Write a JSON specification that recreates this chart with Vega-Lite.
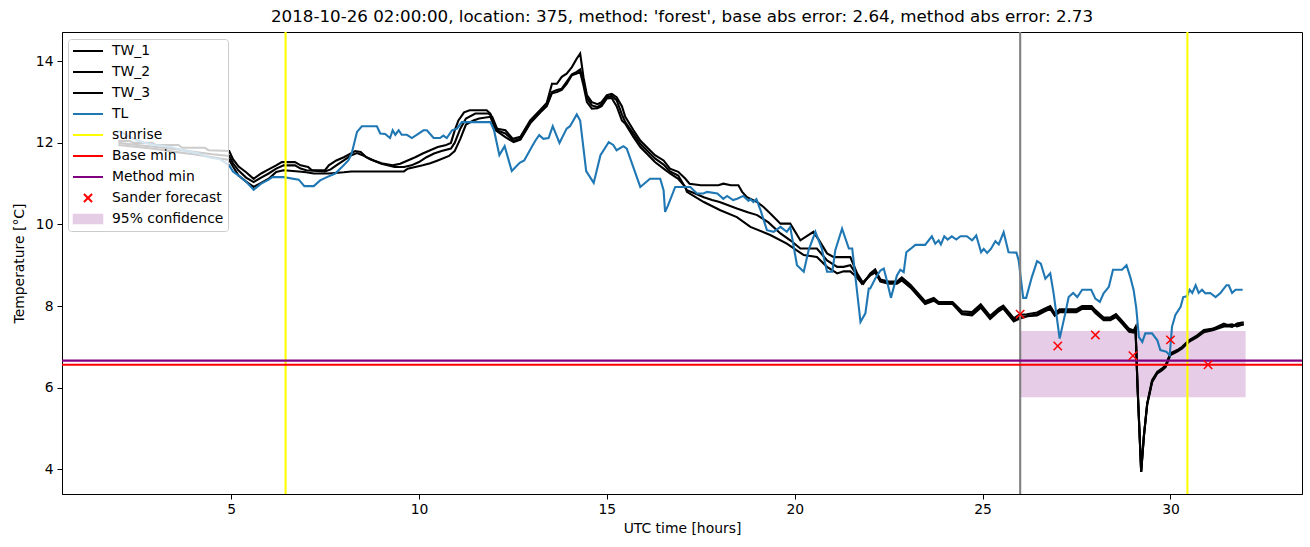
{
"$schema": "https://vega.github.io/schema/vega-lite/v6.json",
"width": 1240, "height": 462,
"autosize": "none",
"padding": {"left": 62, "top": 32, "right": 8, "bottom": 53},
"title": {"text": "2018-10-26 02:00:00, location: 375, method: 'forest', base abs error: 2.64, method abs error: 2.73", "fontSize": 16.7, "fontWeight": "normal", "font": "DejaVu Sans", "color": "black", "offset": 5},
"config": {
  "font": "DejaVu Sans",
  "view": {"stroke": "black", "strokeWidth": 1},
  "axis": {"grid": false, "domainColor": "black", "tickColor": "black", "labelColor": "black", "titleColor": "black", "labelFontSize": 13.9, "titleFontSize": 13.9, "titleFontWeight": "normal", "tickSize": 5, "labelFont": "DejaVu Sans", "titleFont": "DejaVu Sans"},
  "legend": {"symbolSize": 900, "symbolStrokeWidth": 2, "labelFontSize": 13.9, "labelFont": "DejaVu Sans", "labelColor": "black", "strokeColor": "#cccccc", "fillColor": "rgba(255,255,255,0.8)", "cornerRadius": 3, "padding": 4}
},
"layer": [
{
  "data": {"values": [{"x1": 26, "x2": 32, "y1": 5.76, "y2": 7.39}]},
  "mark": {"type": "rect", "color": "#800080", "opacity": 0.2},
  "encoding": {
    "x": {"field": "x1", "type": "quantitative", "scale": {"domain": [0.5, 33.5], "nice": false, "zero": false}, "axis": {"values": [5,10,15,20,25,30], "title": "UTC time [hours]", "labelPadding": 3, "titlePadding": 6}},
    "x2": {"field": "x2"},
    "y": {"field": "y1", "type": "quantitative", "scale": {"domain": [3.39, 14.72], "nice": false, "zero": false}, "axis": {"values": [4,6,8,10,12,14], "title": "Temperature [°C]", "labelPadding": 4, "titlePadding": 9}},
    "y2": {"field": "y2"}
  }
},
{
  "data": {"values": [
{"s":"TW_1","t":2.0,"v":12.05},{"s":"TW_1","t":2.3,"v":12.05},{"s":"TW_1","t":2.4,"v":12.0},{"s":"TW_1","t":2.9,"v":12.0},{"s":"TW_1","t":3.0,"v":11.95},{"s":"TW_1","t":3.6,"v":11.95},{"s":"TW_1","t":3.7,"v":11.88},{"s":"TW_1","t":4.3,"v":11.88},{"s":"TW_1","t":4.4,"v":11.82},{"s":"TW_1","t":4.95,"v":11.8},{"s":"TW_1","t":5.05,"v":11.6},{"s":"TW_1","t":5.2,"v":11.42},{"s":"TW_1","t":5.4,"v":11.28},{"s":"TW_1","t":5.6,"v":11.12},{"s":"TW_1","t":5.8,"v":11.25},{"s":"TW_1","t":6.0,"v":11.35},{"s":"TW_1","t":6.2,"v":11.45},{"s":"TW_1","t":6.35,"v":11.53},{"s":"TW_1","t":6.7,"v":11.53},{"s":"TW_1","t":6.85,"v":11.45},{"s":"TW_1","t":7.05,"v":11.41},{"s":"TW_1","t":7.15,"v":11.33},{"s":"TW_1","t":7.5,"v":11.33},{"s":"TW_1","t":7.6,"v":11.45},{"s":"TW_1","t":7.8,"v":11.57},{"s":"TW_1","t":8.0,"v":11.65},{"s":"TW_1","t":8.2,"v":11.75},{"s":"TW_1","t":8.3,"v":11.8},{"s":"TW_1","t":8.45,"v":11.78},{"s":"TW_1","t":8.6,"v":11.65},{"s":"TW_1","t":8.8,"v":11.57},{"s":"TW_1","t":9.0,"v":11.5},{"s":"TW_1","t":9.3,"v":11.45},{"s":"TW_1","t":9.5,"v":11.49},{"s":"TW_1","t":9.7,"v":11.57},{"s":"TW_1","t":9.9,"v":11.65},{"s":"TW_1","t":10.1,"v":11.74},{"s":"TW_1","t":10.3,"v":11.82},{"s":"TW_1","t":10.5,"v":11.9},{"s":"TW_1","t":10.7,"v":11.94},{"s":"TW_1","t":10.85,"v":12.0},{"s":"TW_1","t":10.95,"v":12.3},{"s":"TW_1","t":11.05,"v":12.55},{"s":"TW_1","t":11.2,"v":12.75},{"s":"TW_1","t":11.35,"v":12.8},{"s":"TW_1","t":11.8,"v":12.8},{"s":"TW_1","t":11.9,"v":12.72},{"s":"TW_1","t":12.05,"v":12.35},{"s":"TW_1","t":12.3,"v":12.31},{"s":"TW_1","t":12.5,"v":12.1},{"s":"TW_1","t":12.7,"v":12.15},{"s":"TW_1","t":12.96,"v":12.55},{"s":"TW_1","t":13.22,"v":12.8},{"s":"TW_1","t":13.4,"v":12.98},{"s":"TW_1","t":13.54,"v":13.45},{"s":"TW_1","t":13.67,"v":13.45},{"s":"TW_1","t":13.8,"v":13.62},{"s":"TW_1","t":13.93,"v":13.7},{"s":"TW_1","t":14.07,"v":13.86},{"s":"TW_1","t":14.2,"v":14.07},{"s":"TW_1","t":14.29,"v":14.19},{"s":"TW_1","t":14.38,"v":13.6},{"s":"TW_1","t":14.47,"v":13.17},{"s":"TW_1","t":14.6,"v":13.0},{"s":"TW_1","t":14.75,"v":12.95},{"s":"TW_1","t":14.86,"v":13.0},{"s":"TW_1","t":15.0,"v":13.17},{"s":"TW_1","t":15.13,"v":13.2},{"s":"TW_1","t":15.26,"v":13.12},{"s":"TW_1","t":15.4,"v":12.9},{"s":"TW_1","t":15.49,"v":12.64},{"s":"TW_1","t":15.71,"v":12.31},{"s":"TW_1","t":15.89,"v":12.06},{"s":"TW_1","t":16.06,"v":11.9},{"s":"TW_1","t":16.28,"v":11.7},{"s":"TW_1","t":16.51,"v":11.57},{"s":"TW_1","t":16.68,"v":11.37},{"s":"TW_1","t":16.9,"v":11.29},{"s":"TW_1","t":17.09,"v":11.12},{"s":"TW_1","t":17.2,"v":11.0},{"s":"TW_1","t":17.5,"v":10.96},{"s":"TW_1","t":17.97,"v":10.96},{"s":"TW_1","t":18.1,"v":11.0},{"s":"TW_1","t":18.3,"v":10.96},{"s":"TW_1","t":18.5,"v":10.96},{"s":"TW_1","t":18.6,"v":10.8},{"s":"TW_1","t":18.73,"v":10.67},{"s":"TW_1","t":19.0,"v":10.55},{"s":"TW_1","t":19.17,"v":10.43},{"s":"TW_1","t":19.35,"v":10.27},{"s":"TW_1","t":19.62,"v":10.02},{"s":"TW_1","t":19.88,"v":10.02},{"s":"TW_1","t":20.15,"v":9.61},{"s":"TW_1","t":20.3,"v":9.7},{"s":"TW_1","t":20.5,"v":9.82},{"s":"TW_1","t":20.65,"v":9.61},{"s":"TW_1","t":20.86,"v":9.29},{"s":"TW_1","t":21.04,"v":9.2},{"s":"TW_1","t":21.48,"v":9.2},{"s":"TW_1","t":21.66,"v":8.8},{"s":"TW_1","t":21.83,"v":8.55},{"s":"TW_1","t":22.01,"v":8.8},{"s":"TW_1","t":22.14,"v":8.9},{"s":"TW_1","t":22.28,"v":8.65},{"s":"TW_1","t":22.5,"v":8.6},{"s":"TW_1","t":22.72,"v":8.6},{"s":"TW_1","t":22.85,"v":8.7},{"s":"TW_1","t":23.08,"v":8.52},{"s":"TW_1","t":23.47,"v":8.12},{"s":"TW_1","t":23.7,"v":8.2},{"s":"TW_1","t":23.83,"v":8.1},{"s":"TW_1","t":24.2,"v":8.1},{"s":"TW_1","t":24.45,"v":7.87},{"s":"TW_1","t":24.72,"v":7.85},{"s":"TW_1","t":24.95,"v":8.04},{"s":"TW_1","t":25.2,"v":7.76},{"s":"TW_1","t":25.43,"v":7.94},{"s":"TW_1","t":25.55,"v":8.01},{"s":"TW_1","t":25.83,"v":7.7},{"s":"TW_1","t":25.96,"v":7.78},{"s":"TW_1","t":26.18,"v":7.8},{"s":"TW_1","t":26.45,"v":7.84},{"s":"TW_1","t":26.62,"v":7.92},{"s":"TW_1","t":26.8,"v":8.0},{"s":"TW_1","t":26.92,"v":7.82},{"s":"TW_1","t":27.05,"v":7.92},{"s":"TW_1","t":27.5,"v":7.92},{"s":"TW_1","t":27.65,"v":8.0},{"s":"TW_1","t":27.9,"v":8.0},{"s":"TW_1","t":28.0,"v":7.9},{"s":"TW_1","t":28.22,"v":7.72},{"s":"TW_1","t":28.4,"v":7.72},{"s":"TW_1","t":28.55,"v":7.8},{"s":"TW_1","t":28.68,"v":7.67},{"s":"TW_1","t":28.9,"v":7.44},{"s":"TW_1","t":29.02,"v":7.4},{"s":"TW_1","t":29.07,"v":7.49},{"s":"TW_1","t":29.12,"v":6.1},{"s":"TW_1","t":29.22,"v":3.93},{"s":"TW_1","t":29.29,"v":4.79},{"s":"TW_1","t":29.38,"v":5.61},{"s":"TW_1","t":29.51,"v":6.18},{"s":"TW_1","t":29.65,"v":6.39},{"s":"TW_1","t":29.78,"v":6.47},{"s":"TW_1","t":29.87,"v":6.55},{"s":"TW_1","t":30.0,"v":6.84},{"s":"TW_1","t":30.18,"v":6.92},{"s":"TW_1","t":30.31,"v":7.0},{"s":"TW_1","t":30.49,"v":7.16},{"s":"TW_1","t":30.71,"v":7.28},{"s":"TW_1","t":30.89,"v":7.41},{"s":"TW_1","t":31.15,"v":7.45},{"s":"TW_1","t":31.42,"v":7.57},{"s":"TW_1","t":31.64,"v":7.49},{"s":"TW_1","t":31.77,"v":7.57},{"s":"TW_1","t":31.95,"v":7.6},
{"s":"TW_2","t":2.0,"v":12.0},{"s":"TW_2","t":2.5,"v":11.95},{"s":"TW_2","t":3.0,"v":11.9},{"s":"TW_2","t":3.5,"v":11.85},{"s":"TW_2","t":4.0,"v":11.78},{"s":"TW_2","t":4.5,"v":11.72},{"s":"TW_2","t":4.95,"v":11.68},{"s":"TW_2","t":5.05,"v":11.5},{"s":"TW_2","t":5.2,"v":11.32},{"s":"TW_2","t":5.4,"v":11.15},{"s":"TW_2","t":5.6,"v":11.04},{"s":"TW_2","t":5.8,"v":11.15},{"s":"TW_2","t":6.0,"v":11.25},{"s":"TW_2","t":6.2,"v":11.37},{"s":"TW_2","t":6.4,"v":11.45},{"s":"TW_2","t":6.7,"v":11.45},{"s":"TW_2","t":6.85,"v":11.37},{"s":"TW_2","t":7.0,"v":11.33},{"s":"TW_2","t":7.5,"v":11.3},{"s":"TW_2","t":7.65,"v":11.35},{"s":"TW_2","t":7.8,"v":11.45},{"s":"TW_2","t":8.0,"v":11.57},{"s":"TW_2","t":8.2,"v":11.7},{"s":"TW_2","t":8.35,"v":11.75},{"s":"TW_2","t":8.5,"v":11.7},{"s":"TW_2","t":8.7,"v":11.6},{"s":"TW_2","t":9.0,"v":11.49},{"s":"TW_2","t":9.35,"v":11.41},{"s":"TW_2","t":9.6,"v":11.41},{"s":"TW_2","t":9.8,"v":11.45},{"s":"TW_2","t":10.0,"v":11.53},{"s":"TW_2","t":10.2,"v":11.65},{"s":"TW_2","t":10.4,"v":11.74},{"s":"TW_2","t":10.6,"v":11.8},{"s":"TW_2","t":10.85,"v":11.86},{"s":"TW_2","t":10.95,"v":12.0},{"s":"TW_2","t":11.1,"v":12.35},{"s":"TW_2","t":11.25,"v":12.6},{"s":"TW_2","t":11.5,"v":12.72},{"s":"TW_2","t":11.85,"v":12.72},{"s":"TW_2","t":11.95,"v":12.64},{"s":"TW_2","t":12.1,"v":12.3},{"s":"TW_2","t":12.3,"v":12.23},{"s":"TW_2","t":12.52,"v":12.05},{"s":"TW_2","t":12.7,"v":12.1},{"s":"TW_2","t":12.96,"v":12.5},{"s":"TW_2","t":13.22,"v":12.76},{"s":"TW_2","t":13.4,"v":12.92},{"s":"TW_2","t":13.54,"v":13.25},{"s":"TW_2","t":13.67,"v":13.3},{"s":"TW_2","t":13.8,"v":13.33},{"s":"TW_2","t":13.93,"v":13.5},{"s":"TW_2","t":14.07,"v":13.68},{"s":"TW_2","t":14.2,"v":13.74},{"s":"TW_2","t":14.29,"v":13.8},{"s":"TW_2","t":14.38,"v":13.5},{"s":"TW_2","t":14.47,"v":13.1},{"s":"TW_2","t":14.6,"v":12.92},{"s":"TW_2","t":14.75,"v":12.88},{"s":"TW_2","t":14.86,"v":12.95},{"s":"TW_2","t":15.0,"v":13.12},{"s":"TW_2","t":15.13,"v":13.15},{"s":"TW_2","t":15.26,"v":13.05},{"s":"TW_2","t":15.4,"v":12.7},{"s":"TW_2","t":15.49,"v":12.51},{"s":"TW_2","t":15.71,"v":12.22},{"s":"TW_2","t":15.89,"v":11.98},{"s":"TW_2","t":16.06,"v":11.82},{"s":"TW_2","t":16.28,"v":11.62},{"s":"TW_2","t":16.51,"v":11.47},{"s":"TW_2","t":16.68,"v":11.3},{"s":"TW_2","t":16.9,"v":11.2},{"s":"TW_2","t":17.13,"v":10.84},{"s":"TW_2","t":17.35,"v":10.76},{"s":"TW_2","t":17.58,"v":10.67},{"s":"TW_2","t":17.8,"v":10.6},{"s":"TW_2","t":18.0,"v":10.55},{"s":"TW_2","t":18.46,"v":10.39},{"s":"TW_2","t":18.75,"v":10.3},{"s":"TW_2","t":19.0,"v":10.23},{"s":"TW_2","t":19.3,"v":10.05},{"s":"TW_2","t":19.62,"v":9.78},{"s":"TW_2","t":19.9,"v":9.6},{"s":"TW_2","t":20.15,"v":9.41},{"s":"TW_2","t":20.59,"v":9.41},{"s":"TW_2","t":20.86,"v":9.12},{"s":"TW_2","t":21.13,"v":8.96},{"s":"TW_2","t":21.3,"v":8.96},{"s":"TW_2","t":21.48,"v":9.0},{"s":"TW_2","t":21.66,"v":8.75},{"s":"TW_2","t":21.79,"v":8.55},{"s":"TW_2","t":22.01,"v":8.78},{"s":"TW_2","t":22.14,"v":8.85},{"s":"TW_2","t":22.28,"v":8.62},{"s":"TW_2","t":22.5,"v":8.58},{"s":"TW_2","t":22.72,"v":8.58},{"s":"TW_2","t":22.85,"v":8.66},{"s":"TW_2","t":23.08,"v":8.48},{"s":"TW_2","t":23.47,"v":8.08},{"s":"TW_2","t":23.7,"v":8.16},{"s":"TW_2","t":23.83,"v":8.07},{"s":"TW_2","t":24.2,"v":8.07},{"s":"TW_2","t":24.45,"v":7.83},{"s":"TW_2","t":24.72,"v":7.8},{"s":"TW_2","t":24.95,"v":8.0},{"s":"TW_2","t":25.2,"v":7.72},{"s":"TW_2","t":25.43,"v":7.9},{"s":"TW_2","t":25.55,"v":7.97},{"s":"TW_2","t":25.83,"v":7.65},{"s":"TW_2","t":25.96,"v":7.72},{"s":"TW_2","t":26.18,"v":7.75},{"s":"TW_2","t":26.45,"v":7.8},{"s":"TW_2","t":26.62,"v":7.88},{"s":"TW_2","t":26.8,"v":7.96},{"s":"TW_2","t":26.92,"v":7.78},{"s":"TW_2","t":27.05,"v":7.88},{"s":"TW_2","t":27.5,"v":7.88},{"s":"TW_2","t":27.65,"v":7.96},{"s":"TW_2","t":27.9,"v":7.96},{"s":"TW_2","t":28.0,"v":7.86},{"s":"TW_2","t":28.22,"v":7.68},{"s":"TW_2","t":28.4,"v":7.68},{"s":"TW_2","t":28.55,"v":7.76},{"s":"TW_2","t":28.68,"v":7.63},{"s":"TW_2","t":28.9,"v":7.4},{"s":"TW_2","t":29.02,"v":7.37},{"s":"TW_2","t":29.07,"v":7.45},{"s":"TW_2","t":29.12,"v":6.1},{"s":"TW_2","t":29.22,"v":3.95},{"s":"TW_2","t":29.29,"v":4.8},{"s":"TW_2","t":29.38,"v":5.6},{"s":"TW_2","t":29.51,"v":6.15},{"s":"TW_2","t":29.65,"v":6.37},{"s":"TW_2","t":29.78,"v":6.45},{"s":"TW_2","t":29.87,"v":6.53},{"s":"TW_2","t":30.0,"v":6.82},{"s":"TW_2","t":30.18,"v":6.9},{"s":"TW_2","t":30.31,"v":6.98},{"s":"TW_2","t":30.49,"v":7.14},{"s":"TW_2","t":30.71,"v":7.26},{"s":"TW_2","t":30.89,"v":7.38},{"s":"TW_2","t":31.15,"v":7.45},{"s":"TW_2","t":31.42,"v":7.52},{"s":"TW_2","t":31.64,"v":7.55},{"s":"TW_2","t":31.77,"v":7.5},{"s":"TW_2","t":31.95,"v":7.55},
{"s":"TW_3","t":2.0,"v":11.95},{"s":"TW_3","t":2.5,"v":11.9},{"s":"TW_3","t":3.0,"v":11.85},{"s":"TW_3","t":3.5,"v":11.78},{"s":"TW_3","t":4.0,"v":11.72},{"s":"TW_3","t":4.5,"v":11.65},{"s":"TW_3","t":4.95,"v":11.58},{"s":"TW_3","t":5.05,"v":11.42},{"s":"TW_3","t":5.2,"v":11.2},{"s":"TW_3","t":5.4,"v":11.05},{"s":"TW_3","t":5.6,"v":10.92},{"s":"TW_3","t":5.8,"v":11.02},{"s":"TW_3","t":6.0,"v":11.12},{"s":"TW_3","t":6.2,"v":11.29},{"s":"TW_3","t":6.4,"v":11.33},{"s":"TW_3","t":6.8,"v":11.3},{"s":"TW_3","t":7.0,"v":11.28},{"s":"TW_3","t":7.2,"v":11.25},{"s":"TW_3","t":7.6,"v":11.25},{"s":"TW_3","t":8.0,"v":11.28},{"s":"TW_3","t":8.2,"v":11.3},{"s":"TW_3","t":9.6,"v":11.3},{"s":"TW_3","t":9.7,"v":11.37},{"s":"TW_3","t":9.9,"v":11.41},{"s":"TW_3","t":10.1,"v":11.45},{"s":"TW_3","t":10.3,"v":11.5},{"s":"TW_3","t":10.5,"v":11.57},{"s":"TW_3","t":10.8,"v":11.68},{"s":"TW_3","t":10.95,"v":11.8},{"s":"TW_3","t":11.1,"v":12.1},{"s":"TW_3","t":11.25,"v":12.45},{"s":"TW_3","t":11.45,"v":12.55},{"s":"TW_3","t":11.6,"v":12.6},{"s":"TW_3","t":11.9,"v":12.64},{"s":"TW_3","t":12.05,"v":12.3},{"s":"TW_3","t":12.3,"v":12.14},{"s":"TW_3","t":12.52,"v":12.02},{"s":"TW_3","t":12.7,"v":12.08},{"s":"TW_3","t":12.96,"v":12.48},{"s":"TW_3","t":13.22,"v":12.74},{"s":"TW_3","t":13.4,"v":12.9},{"s":"TW_3","t":13.54,"v":13.22},{"s":"TW_3","t":13.67,"v":13.25},{"s":"TW_3","t":13.8,"v":13.3},{"s":"TW_3","t":13.93,"v":13.45},{"s":"TW_3","t":14.07,"v":13.66},{"s":"TW_3","t":14.2,"v":13.7},{"s":"TW_3","t":14.29,"v":13.74},{"s":"TW_3","t":14.38,"v":13.4},{"s":"TW_3","t":14.47,"v":13.0},{"s":"TW_3","t":14.6,"v":12.84},{"s":"TW_3","t":14.75,"v":12.85},{"s":"TW_3","t":14.86,"v":12.9},{"s":"TW_3","t":15.0,"v":13.09},{"s":"TW_3","t":15.13,"v":13.1},{"s":"TW_3","t":15.26,"v":12.9},{"s":"TW_3","t":15.4,"v":12.55},{"s":"TW_3","t":15.49,"v":12.47},{"s":"TW_3","t":15.71,"v":12.14},{"s":"TW_3","t":15.89,"v":11.9},{"s":"TW_3","t":16.06,"v":11.74},{"s":"TW_3","t":16.28,"v":11.53},{"s":"TW_3","t":16.51,"v":11.37},{"s":"TW_3","t":16.68,"v":11.25},{"s":"TW_3","t":16.9,"v":11.12},{"s":"TW_3","t":17.09,"v":10.92},{"s":"TW_3","t":17.13,"v":10.8},{"s":"TW_3","t":17.58,"v":10.55},{"s":"TW_3","t":18.02,"v":10.35},{"s":"TW_3","t":18.46,"v":10.18},{"s":"TW_3","t":18.82,"v":9.94},{"s":"TW_3","t":19.35,"v":9.74},{"s":"TW_3","t":19.79,"v":9.53},{"s":"TW_3","t":20.24,"v":9.25},{"s":"TW_3","t":20.59,"v":9.2},{"s":"TW_3","t":20.86,"v":8.96},{"s":"TW_3","t":21.13,"v":8.8},{"s":"TW_3","t":21.3,"v":8.85},{"s":"TW_3","t":21.48,"v":8.85},{"s":"TW_3","t":21.66,"v":8.7},{"s":"TW_3","t":21.79,"v":8.55},{"s":"TW_3","t":22.01,"v":8.75},{"s":"TW_3","t":22.14,"v":8.82},{"s":"TW_3","t":22.28,"v":8.6},{"s":"TW_3","t":22.5,"v":8.55},{"s":"TW_3","t":22.72,"v":8.55},{"s":"TW_3","t":22.85,"v":8.63},{"s":"TW_3","t":23.08,"v":8.45},{"s":"TW_3","t":23.47,"v":8.05},{"s":"TW_3","t":23.7,"v":8.13},{"s":"TW_3","t":23.83,"v":8.05},{"s":"TW_3","t":24.2,"v":8.05},{"s":"TW_3","t":24.45,"v":7.8},{"s":"TW_3","t":24.72,"v":7.77},{"s":"TW_3","t":24.95,"v":7.96},{"s":"TW_3","t":25.2,"v":7.68},{"s":"TW_3","t":25.43,"v":7.87},{"s":"TW_3","t":25.55,"v":7.94},{"s":"TW_3","t":25.83,"v":7.62},{"s":"TW_3","t":25.96,"v":7.68},{"s":"TW_3","t":26.18,"v":7.75},{"s":"TW_3","t":26.45,"v":7.77},{"s":"TW_3","t":26.62,"v":7.85},{"s":"TW_3","t":26.8,"v":7.93},{"s":"TW_3","t":26.92,"v":7.76},{"s":"TW_3","t":27.05,"v":7.85},{"s":"TW_3","t":27.5,"v":7.85},{"s":"TW_3","t":27.65,"v":7.93},{"s":"TW_3","t":27.9,"v":7.93},{"s":"TW_3","t":28.0,"v":7.83},{"s":"TW_3","t":28.22,"v":7.65},{"s":"TW_3","t":28.4,"v":7.65},{"s":"TW_3","t":28.55,"v":7.73},{"s":"TW_3","t":28.68,"v":7.6},{"s":"TW_3","t":28.9,"v":7.37},{"s":"TW_3","t":29.02,"v":7.35},{"s":"TW_3","t":29.07,"v":7.42},{"s":"TW_3","t":29.12,"v":6.1},{"s":"TW_3","t":29.22,"v":3.93},{"s":"TW_3","t":29.29,"v":4.78},{"s":"TW_3","t":29.38,"v":5.58},{"s":"TW_3","t":29.51,"v":6.13},{"s":"TW_3","t":29.65,"v":6.35},{"s":"TW_3","t":29.78,"v":6.43},{"s":"TW_3","t":29.87,"v":6.5},{"s":"TW_3","t":30.0,"v":6.8},{"s":"TW_3","t":30.18,"v":6.88},{"s":"TW_3","t":30.31,"v":6.96},{"s":"TW_3","t":30.49,"v":7.12},{"s":"TW_3","t":30.71,"v":7.24},{"s":"TW_3","t":30.89,"v":7.36},{"s":"TW_3","t":31.15,"v":7.41},{"s":"TW_3","t":31.42,"v":7.5},{"s":"TW_3","t":31.64,"v":7.5},{"s":"TW_3","t":31.77,"v":7.55},{"s":"TW_3","t":31.95,"v":7.55},
{"s":"TL","t":2.0,"v":12.3},{"s":"TL","t":2.2,"v":12.2},{"s":"TL","t":2.4,"v":12.1},{"s":"TL","t":2.7,"v":12.0},{"s":"TL","t":3.0,"v":11.95},{"s":"TL","t":3.4,"v":11.9},{"s":"TL","t":3.8,"v":11.8},{"s":"TL","t":4.1,"v":11.75},{"s":"TL","t":4.4,"v":11.65},{"s":"TL","t":4.7,"v":11.6},{"s":"TL","t":4.95,"v":11.45},{"s":"TL","t":5.05,"v":11.3},{"s":"TL","t":5.2,"v":11.2},{"s":"TL","t":5.4,"v":11.05},{"s":"TL","t":5.6,"v":10.85},{"s":"TL","t":5.8,"v":11.0},{"s":"TL","t":6.0,"v":11.1},{"s":"TL","t":6.1,"v":11.16},{"s":"TL","t":6.4,"v":11.16},{"s":"TL","t":6.8,"v":11.1},{"s":"TL","t":6.95,"v":10.94},{"s":"TL","t":7.2,"v":10.94},{"s":"TL","t":7.37,"v":11.08},{"s":"TL","t":7.55,"v":11.16},{"s":"TL","t":7.77,"v":11.25},{"s":"TL","t":7.95,"v":11.41},{"s":"TL","t":8.12,"v":11.57},{"s":"TL","t":8.21,"v":11.74},{"s":"TL","t":8.35,"v":12.27},{"s":"TL","t":8.48,"v":12.41},{"s":"TL","t":8.88,"v":12.41},{"s":"TL","t":8.97,"v":12.23},{"s":"TL","t":9.1,"v":12.22},{"s":"TL","t":9.23,"v":12.12},{"s":"TL","t":9.3,"v":12.31},{"s":"TL","t":9.37,"v":12.2},{"s":"TL","t":9.46,"v":12.31},{"s":"TL","t":9.54,"v":12.2},{"s":"TL","t":9.68,"v":12.2},{"s":"TL","t":9.81,"v":12.12},{"s":"TL","t":9.94,"v":12.2},{"s":"TL","t":10.12,"v":12.31},{"s":"TL","t":10.21,"v":12.31},{"s":"TL","t":10.39,"v":12.12},{"s":"TL","t":10.56,"v":12.12},{"s":"TL","t":10.65,"v":12.18},{"s":"TL","t":10.74,"v":12.12},{"s":"TL","t":10.88,"v":12.31},{"s":"TL","t":11.01,"v":12.35},{"s":"TL","t":11.14,"v":12.51},{"s":"TL","t":11.9,"v":12.51},{"s":"TL","t":12.0,"v":12.3},{"s":"TL","t":12.14,"v":11.7},{"s":"TL","t":12.28,"v":11.92},{"s":"TL","t":12.47,"v":11.31},{"s":"TL","t":12.68,"v":11.51},{"s":"TL","t":12.8,"v":11.57},{"s":"TL","t":13.0,"v":11.9},{"s":"TL","t":13.1,"v":12.06},{"s":"TL","t":13.2,"v":12.19},{"s":"TL","t":13.31,"v":12.1},{"s":"TL","t":13.45,"v":12.12},{"s":"TL","t":13.56,"v":12.41},{"s":"TL","t":13.74,"v":12.0},{"s":"TL","t":13.93,"v":12.35},{"s":"TL","t":14.02,"v":12.41},{"s":"TL","t":14.2,"v":12.7},{"s":"TL","t":14.29,"v":12.55},{"s":"TL","t":14.45,"v":11.31},{"s":"TL","t":14.65,"v":11.02},{"s":"TL","t":14.83,"v":11.7},{"s":"TL","t":15.05,"v":12.02},{"s":"TL","t":15.17,"v":11.95},{"s":"TL","t":15.26,"v":11.82},{"s":"TL","t":15.44,"v":11.92},{"s":"TL","t":15.53,"v":11.86},{"s":"TL","t":15.89,"v":10.92},{"s":"TL","t":16.15,"v":11.12},{"s":"TL","t":16.42,"v":11.12},{"s":"TL","t":16.51,"v":10.84},{"s":"TL","t":16.55,"v":10.31},{"s":"TL","t":16.62,"v":10.45},{"s":"TL","t":16.82,"v":10.92},{"s":"TL","t":17.22,"v":10.92},{"s":"TL","t":17.4,"v":10.76},{"s":"TL","t":17.57,"v":10.76},{"s":"TL","t":17.67,"v":10.8},{"s":"TL","t":17.94,"v":10.76},{"s":"TL","t":18.1,"v":10.63},{"s":"TL","t":18.2,"v":10.7},{"s":"TL","t":18.36,"v":10.6},{"s":"TL","t":18.47,"v":10.63},{"s":"TL","t":18.63,"v":10.7},{"s":"TL","t":18.77,"v":10.58},{"s":"TL","t":18.82,"v":10.62},{"s":"TL","t":18.9,"v":10.55},{"s":"TL","t":18.98,"v":10.62},{"s":"TL","t":19.09,"v":10.35},{"s":"TL","t":19.26,"v":9.86},{"s":"TL","t":19.44,"v":9.82},{"s":"TL","t":19.62,"v":9.94},{"s":"TL","t":19.79,"v":9.82},{"s":"TL","t":19.88,"v":9.94},{"s":"TL","t":20.06,"v":9.0},{"s":"TL","t":20.24,"v":8.84},{"s":"TL","t":20.37,"v":9.37},{"s":"TL","t":20.55,"v":9.82},{"s":"TL","t":20.72,"v":9.41},{"s":"TL","t":20.86,"v":8.84},{"s":"TL","t":21.0,"v":8.84},{"s":"TL","t":21.08,"v":9.37},{"s":"TL","t":21.26,"v":9.9},{"s":"TL","t":21.44,"v":9.41},{"s":"TL","t":21.53,"v":9.41},{"s":"TL","t":21.75,"v":7.61},{"s":"TL","t":21.88,"v":7.82},{"s":"TL","t":21.97,"v":8.43},{"s":"TL","t":22.01,"v":8.43},{"s":"TL","t":22.14,"v":8.67},{"s":"TL","t":22.28,"v":8.87},{"s":"TL","t":22.37,"v":8.92},{"s":"TL","t":22.45,"v":8.63},{"s":"TL","t":22.56,"v":8.2},{"s":"TL","t":22.72,"v":8.75},{"s":"TL","t":22.81,"v":8.89},{"s":"TL","t":22.9,"v":8.83},{"s":"TL","t":22.97,"v":9.32},{"s":"TL","t":23.08,"v":9.4},{"s":"TL","t":23.21,"v":9.5},{"s":"TL","t":23.47,"v":9.5},{"s":"TL","t":23.65,"v":9.71},{"s":"TL","t":23.74,"v":9.53},{"s":"TL","t":23.83,"v":9.61},{"s":"TL","t":23.89,"v":9.51},{"s":"TL","t":23.98,"v":9.71},{"s":"TL","t":24.07,"v":9.63},{"s":"TL","t":24.18,"v":9.71},{"s":"TL","t":24.3,"v":9.63},{"s":"TL","t":24.41,"v":9.71},{"s":"TL","t":24.58,"v":9.71},{"s":"TL","t":24.72,"v":9.61},{"s":"TL","t":24.83,"v":9.73},{"s":"TL","t":24.96,"v":9.32},{"s":"TL","t":25.03,"v":9.4},{"s":"TL","t":25.12,"v":9.3},{"s":"TL","t":25.22,"v":9.4},{"s":"TL","t":25.34,"v":9.59},{"s":"TL","t":25.43,"v":9.51},{"s":"TL","t":25.56,"v":9.81},{"s":"TL","t":25.69,"v":9.32},{"s":"TL","t":25.9,"v":9.31},{"s":"TL","t":25.96,"v":9.12},{"s":"TL","t":26.08,"v":8.2},{"s":"TL","t":26.16,"v":8.2},{"s":"TL","t":26.31,"v":8.71},{"s":"TL","t":26.45,"v":9.1},{"s":"TL","t":26.55,"v":9.04},{"s":"TL","t":26.67,"v":8.67},{"s":"TL","t":26.8,"v":8.8},{"s":"TL","t":26.89,"v":8.31},{"s":"TL","t":27.05,"v":7.2},{"s":"TL","t":27.2,"v":7.82},{"s":"TL","t":27.29,"v":8.22},{"s":"TL","t":27.41,"v":8.32},{"s":"TL","t":27.52,"v":8.22},{"s":"TL","t":27.65,"v":8.4},{"s":"TL","t":27.89,"v":8.4},{"s":"TL","t":28.0,"v":8.18},{"s":"TL","t":28.12,"v":8.1},{"s":"TL","t":28.22,"v":8.31},{"s":"TL","t":28.36,"v":8.47},{"s":"TL","t":28.47,"v":8.89},{"s":"TL","t":28.71,"v":8.89},{"s":"TL","t":28.83,"v":9.0},{"s":"TL","t":28.93,"v":8.71},{"s":"TL","t":29.02,"v":8.39},{"s":"TL","t":29.09,"v":7.94},{"s":"TL","t":29.16,"v":7.24},{"s":"TL","t":29.25,"v":7.12},{"s":"TL","t":29.33,"v":7.33},{"s":"TL","t":29.51,"v":7.33},{"s":"TL","t":29.65,"v":7.16},{"s":"TL","t":29.73,"v":6.92},{"s":"TL","t":29.89,"v":6.88},{"s":"TL","t":29.98,"v":6.79},{"s":"TL","t":30.04,"v":7.49},{"s":"TL","t":30.13,"v":7.78},{"s":"TL","t":30.27,"v":7.98},{"s":"TL","t":30.34,"v":8.22},{"s":"TL","t":30.44,"v":8.24},{"s":"TL","t":30.51,"v":8.4},{"s":"TL","t":30.58,"v":8.32},{"s":"TL","t":30.67,"v":8.51},{"s":"TL","t":30.75,"v":8.32},{"s":"TL","t":30.84,"v":8.4},{"s":"TL","t":30.93,"v":8.31},{"s":"TL","t":31.06,"v":8.32},{"s":"TL","t":31.2,"v":8.22},{"s":"TL","t":31.33,"v":8.32},{"s":"TL","t":31.49,"v":8.51},{"s":"TL","t":31.55,"v":8.51},{"s":"TL","t":31.64,"v":8.32},{"s":"TL","t":31.73,"v":8.4},{"s":"TL","t":31.92,"v":8.4}
  ]},
  "mark": {"type": "line", "strokeWidth": 2.1},
  "encoding": {
    "x": {"field": "t", "type": "quantitative"},
    "y": {"field": "v", "type": "quantitative"},
    "color": {"field": "s", "type": "nominal",
      "scale": {"domain": ["TW_1","TW_2","TW_3","TL","sunrise","Base min","Method min","Sander forecast","95% confidence"], "range": ["#000000","#000000","#000000","#1f77b4","#ffff00","#ff0000","#800080","#ff0000","#e5cde5"]},
      "legend": {"title": null, "orient": "none", "legendX": 6, "legendY": 7, "clipHeight": 16, "rowPadding": 5, "labelOffset": 8,
        "encode": {"symbols": {"update": {
          "shape": {"signal": "datum.value === 'Sander forecast' ? 'M-0.27,-0.27L0.27,0.27M0.27,-0.27L-0.27,0.27' : (datum.value === '95% confidence' ? 'M-0.95,-0.28L0.95,-0.28L0.95,0.28L-0.95,0.28Z' : 'stroke')"},
          "fill": {"signal": "datum.value === '95% confidence' ? '#e5cde5' : 'transparent'"}
        }}}}
    },
    "order": {"field": "t", "type": "quantitative"}
  }
},
{
  "data": {"values": [{"x": 26}]},
  "mark": {"type": "rule", "color": "#808080", "strokeWidth": 2.1},
  "encoding": {"x": {"field": "x", "type": "quantitative"}}
},
{
  "data": {"values": [{"x": 6.45}, {"x": 30.45}]},
  "mark": {"type": "rule", "color": "#ffff00", "strokeWidth": 2.1},
  "encoding": {"x": {"field": "x", "type": "quantitative"}}
},
{
  "data": {"values": [{"y": 6.56}]},
  "mark": {"type": "rule", "color": "#ff0000", "strokeWidth": 2.1},
  "encoding": {"y": {"field": "y", "type": "quantitative"}}
},
{
  "data": {"values": [{"y": 6.66}]},
  "mark": {"type": "rule", "color": "#800080", "strokeWidth": 2.1},
  "encoding": {"y": {"field": "y", "type": "quantitative"}}
},
{
  "data": {"values": [{"t": 26, "v": 7.8}, {"t": 27, "v": 7.02}, {"t": 28, "v": 7.29}, {"t": 29, "v": 6.78}, {"t": 30, "v": 7.17}, {"t": 31, "v": 6.56}]},
  "mark": {"type": "point", "shape": "M-1,-1L1,1M1,-1L-1,1", "size": 70, "filled": false, "color": "#ff0000", "strokeWidth": 1.5, "opacity": 1},
  "encoding": {"x": {"field": "t", "type": "quantitative"}, "y": {"field": "v", "type": "quantitative"}}
}
]
}
